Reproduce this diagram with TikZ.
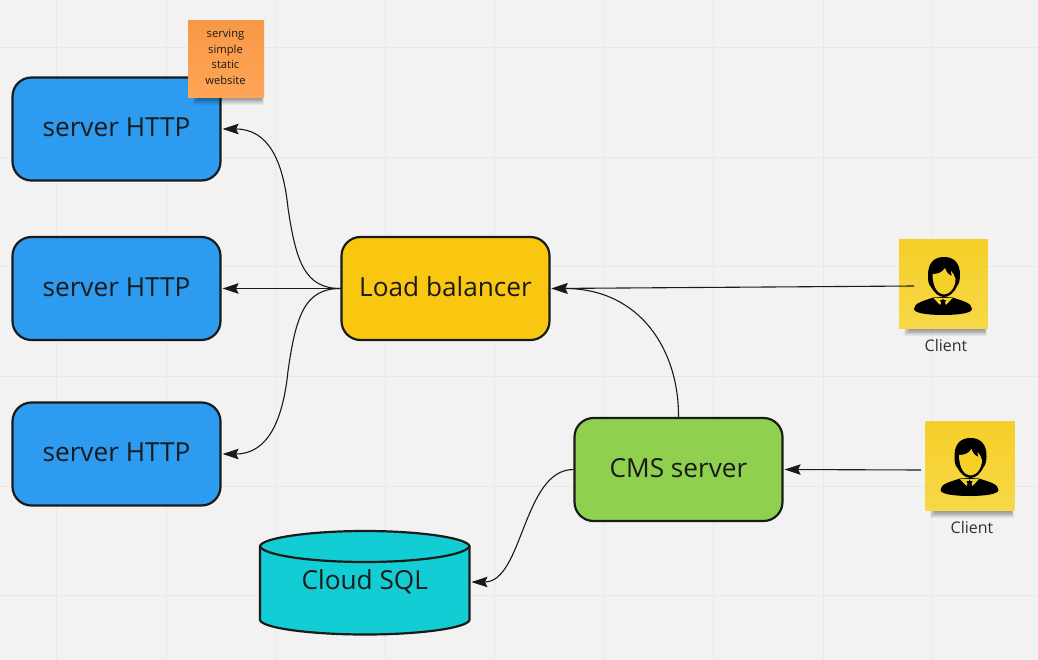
\documentclass[tikz,border=0pt]{standalone}
\usepackage{fontspec}
\setmainfont{Open Sans}
\usetikzlibrary{arrows.meta,shapes.geometric,fadings,calc}
\definecolor{bg}{HTML}{F2F2F2}
\definecolor{gridc}{HTML}{E8E8E8}
\definecolor{ink}{HTML}{1A1A1A}
\definecolor{bluec}{HTML}{2D9BF0}
\definecolor{yellowc}{HTML}{FAC710}
\definecolor{greenc}{HTML}{8FD14F}
\definecolor{cyanc}{HTML}{12CDD4}
\definecolor{stickyy}{HTML}{F5D128}
\definecolor{stickyo}{HTML}{FF9D48}
\tikzset{
  box/.style={draw=ink,line width=2.2pt,rounded corners=19pt,minimum width=208pt,minimum height=103pt,inner sep=0pt,text=ink,font=\fontsize{26.2}{30}\selectfont},
  link/.style={draw=ink,line width=1.1pt,-{Stealth[length=16pt,width=10.5pt,inset=2.5pt]},shorten >=1pt},
  ghost/.style={inner sep=0pt,minimum width=0pt},
  clientlabel/.style={text=ink!90,font=\fontsize{16}{18}\selectfont,inner sep=0pt},
}
\newcommand{\uptext}[1]{\raisebox{3pt}{#1}}
\newcommand{\stickyshadow}[3]{% x1 x2 ybottom
  \foreach \i in {1,...,10}{
    \fill[black,opacity=0.05] (#1+\i*0.8,#3-4) rectangle (#2-\i*0.3,#3+9-\i*0.9);
  }
}
\newcommand{\personicon}{%
  % body
  \fill[black] (15,69) .. controls (15,63) and (24,61) .. (36,57) -- (52,57) .. controls (64,61) and (73,63) .. (73,69) .. controls (73,73) and (60,75) .. (44,75) .. controls (28,75) and (15,73) .. (15,69) -- cycle;
  % collar and tie
  \fill[stickyy] (34,57.5) -- (44,58) -- (41,65) -- cycle;
  \fill[stickyy] (54,57.5) -- (44,58) -- (47,65) -- cycle;
  \fill[black] (41,60) -- (47,60) -- (45.8,63) -- (47.5,70) -- (40.5,70) -- (42.2,63) -- cycle;
  % hair and jaw
  \fill[black] (29,35) .. controls (29,23) and (35,17) .. (45,17) .. controls (55,17) and (61,23) .. (61,35) .. controls (61,40) and (60,44) .. (58,46) .. controls (55,53) and (50,57) .. (45,57) .. controls (40,57) and (35,53) .. (32,47) .. controls (29,44) and (29,40) .. (29,35) -- cycle;
  % face
  \fill[stickyy] (33.5,34) .. controls (38,34) and (43,33) .. (46,28) .. controls (47,32) and (50,35) .. (53,36) .. controls (52,33) and (52,32) .. (52,31) .. controls (54,33) and (56,36) .. (56.5,39) .. controls (56.5,47) and (51,54.5) .. (45,54.5) .. controls (39,54.5) and (33.5,47) .. (33.5,34) -- cycle;
}
\begin{document}
\begin{tikzpicture}[x=1pt,y=-1pt]
\useasboundingbox (0,0) rectangle (1038,660);
\fill[bg] (0,0) rectangle (1038,660);
\foreach \gx in {56.5,166,275.5,385,494.5,604,713.5,823,932.5}
  \draw[gridc,line width=1pt] (\gx,0) -- (\gx,660);
\foreach \gy in {48,157.5,267,376.5,486,595.5}
  \draw[gridc,line width=1pt] (0,\gy) -- (1038,\gy);

% main boxes
\node[box,fill=bluec] (s1) at (116.5,129) {\uptext{server HTTP}};
\node[box,fill=bluec] (s2) at (116.5,288.5) {\uptext{server HTTP}};
\node[box,fill=bluec] (s3) at (116.5,454) {\uptext{server HTTP}};
\node[box,fill=yellowc] (lb) at (445.5,288.5) {\uptext{Load balancer}};
\node[box,fill=greenc] (cms) at (678.5,469.5) {\uptext{CMS server}};

% database
\filldraw[draw=ink,line width=2.2pt,fill=cyanc] (260,546) -- (260,620) .. controls (262,628) and (310,634.5) .. (365,634.5) .. controls (420,634.5) and (467,628) .. (469.5,620) -- (469.5,546) .. controls (467,538) and (420,531) .. (365,531) .. controls (310,531) and (262,538) .. (260,546) -- cycle;
\draw[ink,line width=2.2pt] (260,546) .. controls (262,555) and (310,562) .. (365,562) .. controls (420,562) and (467,555) .. (469.5,546);
\node[ghost,text=ink,font=\fontsize{26.2}{30}\selectfont,minimum width=211pt,minimum height=0pt] (db) at (364.75,582) {Cloud SQL};

% orange sticky
\stickyshadow{192}{264}{97}
\shade[top color=stickyo!97!black,bottom color=stickyo!92!white] (188,21) rectangle (264,98);
\node[ghost,align=center,text=ink,font=\fontsize{11.2}{15.6}\selectfont,minimum width=76pt,minimum height=77pt] (note) at (225.5,57) {serving\\simple\\static\\website};

% clients
\stickyshadow{903}{987}{328}
\shade[top color=stickyy!98!orange,bottom color=stickyy!85!white] (899,240) rectangle (987.5,328.5);
\begin{scope}[shift={(899,240)}]\personicon\end{scope}
\node[clientlabel] (c1) at (946,345) {Client};
\coordinate (c1p) at (914,286);

\stickyshadow{929}{1014}{510}
\shade[top color=stickyy!98!orange,bottom color=stickyy!85!white] (925.5,421) rectangle (1014.5,510);
\begin{scope}[shift={(925.5,421)}]\personicon\end{scope}
\node[clientlabel] (c2) at (972,527) {Client};
\coordinate (c2p) at (921,470);

% connectors
\draw[link] (lb.west) .. controls (305,288.5) and (296,262) .. (288,208) .. controls (283,160) and (268,129) .. (s1.east);
\draw[link] (lb.west) -- (s2.east);
\draw[link] (lb.west) .. controls (305,288.5) and (296,315) .. (288,371) .. controls (283,420) and (268,454) .. (s3.east);
\draw[link] (c1p) -- (lb.east);
\draw[link] (cms.north) .. controls (679,350) and (640,288.5) .. (lb.east);
\draw[link] (c2p) -- (cms.east);
\draw[link] (cms.west) .. controls (523,469.5) and (523,582) .. (db.east);
\end{tikzpicture}
\end{document}
